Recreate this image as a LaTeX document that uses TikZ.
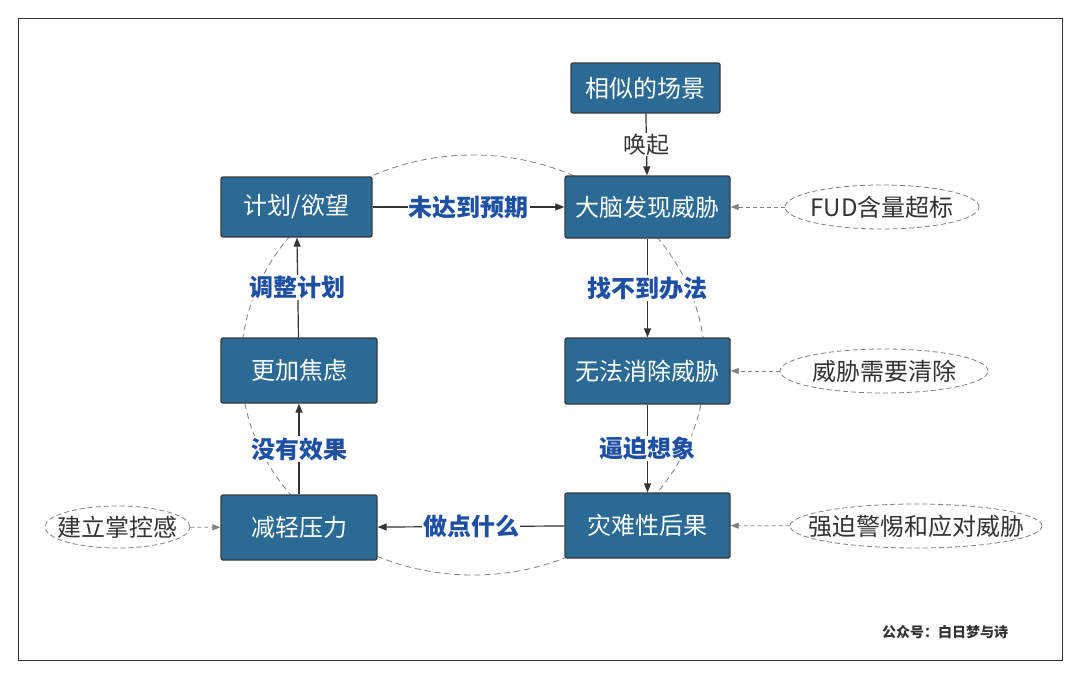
\documentclass[tikz,border=0pt]{standalone}
\usepackage{fontspec}
\setmainfont{Noto Sans CJK SC}
\usetikzlibrary{arrows.meta,shapes.geometric}
\definecolor{boxfill}{HTML}{2B6A94}
\definecolor{boxline}{HTML}{3A3A3A}
\definecolor{lblblue}{HTML}{1D4FA3}
\definecolor{txtdark}{HTML}{333333}
\definecolor{dashgray}{HTML}{808080}
\tikzset{
  stepbox/.style={draw=boxline, line width=1.3pt, fill=boxfill, rounded corners=2pt,
    text=white, font=\fontsize{24}{26}\selectfont, inner sep=0pt, anchor=center},
  cloud/.style={ellipse, draw=dashgray, dash pattern=on 5pt off 3pt, line width=0.8pt, inner sep=0pt},
  cloudtext/.style={text=txtdark, font=\fontsize{24}{26}\selectfont, inner sep=0pt},
  flow/.style={draw=txtdark, line width=1.2pt, -{Triangle[length=9pt,width=7pt]}},
  hint/.style={draw=dashgray, dash pattern=on 4pt off 3pt, line width=0.8pt, -{Triangle[length=8pt,width=6pt]}},
  lbl/.style={fill=white, text=lblblue, font=\fontsize{24}{26}\selectfont\bfseries, inner sep=1pt},
  plainlbl/.style={fill=white, text=txtdark, font=\fontsize{23}{25}\selectfont, inner sep=1pt},
}
\begin{document}
\begin{tikzpicture}[x=1pt,y=-1pt]
\useasboundingbox (0,0) rectangle (1080,678);
\fill[white] (0,0) rectangle (1080,678);
\draw[draw=txtdark, line width=1pt] (18,18) rectangle (1062,660);
% background loop
\draw[dashgray, dash pattern=on 6pt off 4pt, line width=0.8pt] (473,365) ellipse [x radius=232, y radius=210];
% boxes
\node[stepbox, minimum width=149pt, minimum height=50pt] (scene) at (645.5,88) {相似的场景};
\node[stepbox, minimum width=151pt, minimum height=60pt] (plan) at (296.5,207) {计划/欲望};
\node[stepbox, minimum width=165pt, minimum height=62pt] (brain) at (647.5,207) {大脑发现威胁};
\node[stepbox, minimum width=156pt, minimum height=65pt] (anx) at (299,370.5) {更加焦虑};
\node[stepbox, minimum width=165pt, minimum height=66pt] (cant) at (647.5,371) {无法消除威胁};
\node[stepbox, minimum width=156pt, minimum height=65pt] (relief) at (299,527.5) {减轻压力};
\node[stepbox, minimum width=165pt, minimum height=65pt] (cata) at (647.5,525.5) {灾难性后果};
% side ellipses
\node[cloud, minimum width=194pt, minimum height=44pt] (fud) at (882,207) {};
\node[cloudtext] (fudt) at (fud) {FUD含量超标};
\node[cloud, minimum width=208pt, minimum height=44pt] (clear) at (884,371) {};
\node[cloudtext] (cleart) at (clear) {威胁需要清除};
\node[cloud, minimum width=252pt, minimum height=44pt] (alert) at (916,526) {};
\node[cloudtext] (alertt) at (alert) {强迫警惕和应对威胁};
\node[cloud, minimum width=145pt, minimum height=42pt] (ctrl) at (117.5,527) {};
\node[cloudtext] (ctrlt) at (ctrl) {建立掌控感};
% main flow
\draw[flow] (scene) -- node[plainlbl] {唤起} (brain);
\draw[flow] (plan) -- node[lbl] {未达到预期} (brain);
\draw[flow] (brain) -- node[lbl] {找不到办法} (cant);
\draw[flow] (cant) -- node[lbl] {逼迫想象} (cata);
\draw[flow] (cata) -- node[lbl] {做点什么} (relief);
\draw[flow] (relief) -- node[lbl] {没有效果} (anx);
\draw[flow] (anx) -- node[lbl] {调整计划} (plan);
% hints
\draw[hint] (fud) -- (brain);
\draw[hint] (clear) -- (cant);
\draw[hint] (alert) -- (cata);
\draw[hint] (ctrl) -- (relief);
% footer
\node[text=txtdark, font=\fontsize{14}{16}\selectfont\bfseries] (footer) at (945,632) {公众号：白日梦与诗};
\end{tikzpicture}
\end{document}
